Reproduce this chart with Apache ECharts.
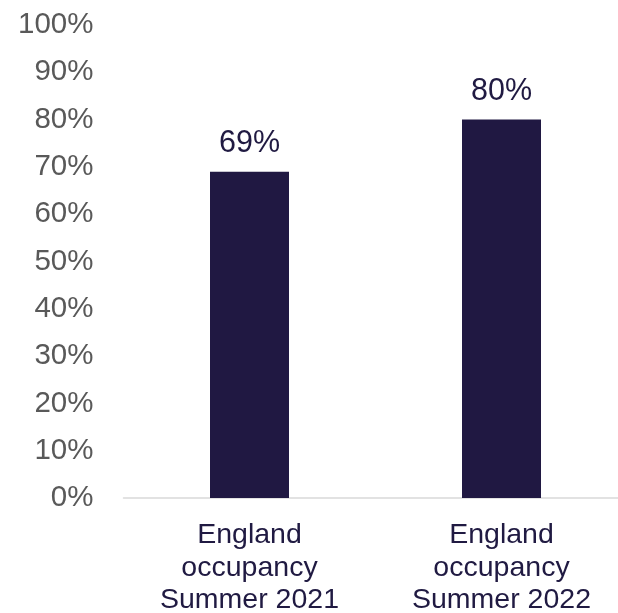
<!DOCTYPE html>
<html><head><meta charset="utf-8">
<script src="https://cdn.jsdelivr.net/npm/echarts@6/dist/echarts.min.js"></script>
<style>html,body{margin:0;padding:0;background:#fff}#c{width:618px;height:613px}</style>
</head><body><div id="c"></div>
<script>
const categories = ['England\noccupancy\nSummer 2021', 'England\noccupancy\nSummer 2022'];
const values = [69, 80];
const yTicks = [0,10,20,30,40,50,60,70,80,90,100];
const chart = echarts.init(document.getElementById('c'));
chart.setOption({
  animation: false,
  grid: { left: 123.5, width: 504, top: 25, height: 473, containLabel: false, outerBoundsMode: 'none' },
  xAxis: {
    type: 'category', data: categories,
    axisLine: { lineStyle: { color: '#d9d9d9', width: 1.5 } },
    axisTick: { show: false },
    axisLabel: { color: '#201a42', fontSize: 28.5, fontFamily: 'Liberation Sans, Arial, sans-serif', lineHeight: 32.5, margin: 21, interval: 0 }
  },
  yAxis: {
    type: 'value', min: 0, max: 100, interval: 10,
    axisLine: { show: false }, axisTick: { show: false },
    splitLine: { show: false },
    axisLabel: { color: '#595959', fontSize: 29.5, fontFamily: 'Liberation Sans, Arial, sans-serif', margin: 30, formatter: v => v + '%' }
  },
  series: [{
    type: 'bar', data: values, barWidth: 79,
    itemStyle: { color: '#201842' },
    label: { show: true, position: 'top', distance: 13, color: '#201a42', fontSize: 30.5, fontFamily: 'Liberation Sans, Arial, sans-serif', formatter: p => p.value + '%' }
  }]
});
</script></body></html>
